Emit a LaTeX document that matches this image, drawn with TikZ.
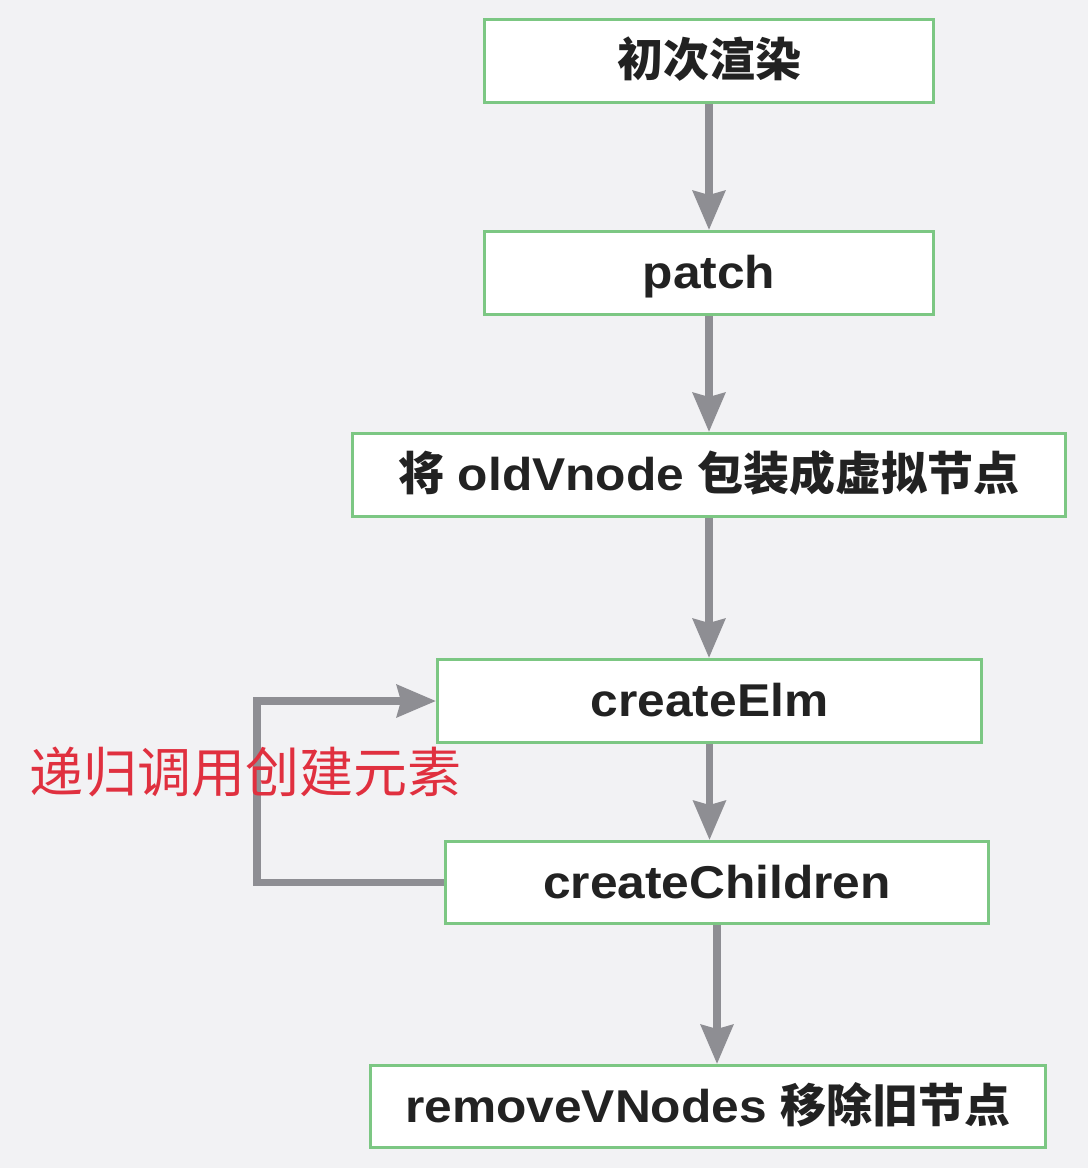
\documentclass[tikz,border=0pt]{standalone}
\usepackage{fontspec}
\setmainfont{Liberation Sans}[FakeStretch=1.08]
\newfontfamily\cjk{Noto Sans CJK SC}
\usetikzlibrary{arrows.meta}
\definecolor{bggrey}{HTML}{F2F2F4}
\definecolor{boxgreen}{HTML}{7CC783}
\definecolor{arrowgrey}{HTML}{8E8E93}
\definecolor{loopred}{HTML}{E0303F}
\definecolor{textdark}{HTML}{222222}

\begin{document}
\begin{tikzpicture}[x=1pt,y=-1pt,box/.style={draw=boxgreen, line width=3pt, fill=white, minimum height=83pt, inner sep=0pt, text height=41pt, text depth=10pt, text=textdark, font=\fontsize{46}{56}\selectfont\bfseries},flow/.style={draw=arrowgrey, line width=7.5pt, -{Stealth[length=39pt,width=32pt,inset=4pt]}}]
	\fill[bggrey] (0,0) rectangle (1088,1168);
	\useasboundingbox (0,0) rectangle (1088,1168);
	\node[box, minimum width=449pt] (render) at (709,61) {{\cjk 初次渲染}};
	\node[box, minimum width=449pt] (patch) at (709,273) {patch};
	\node[box, minimum width=713pt] (wrap) at (709,475) {{\cjk 将} oldVnode {\cjk 包装成虚拟节点}};
	\node[box, minimum width=544pt] (elm) at (709.5,701) {createElm};
	\node[box, minimum width=543pt, minimum height=82pt] (children) at (717,882.5) {createChildren};
	\node[box, minimum width=675pt, minimum height=82pt] (remove) at (708,1106.5) {removeVNodes {\cjk 移除旧节点}};
	\draw[flow] (render) -- (patch);
	\draw[flow] (patch) -- (wrap);
	\draw[flow] (wrap.south) -- (wrap.south |- elm.north);
	\draw[flow] (elm.south) -- (elm.south |- children.north);
	\draw[flow] (children.south) -- (children.south |- remove.north);
	% loop back
	\draw[flow] (children.west) -| ([xshift=-179pt]elm.west) -- (elm.west);
	\node[text=loopred, font=\fontsize{54}{60}\selectfont\cjk] (recurse) at (246,772) {递归调用创建元素};
\end{tikzpicture}
\end{document}
